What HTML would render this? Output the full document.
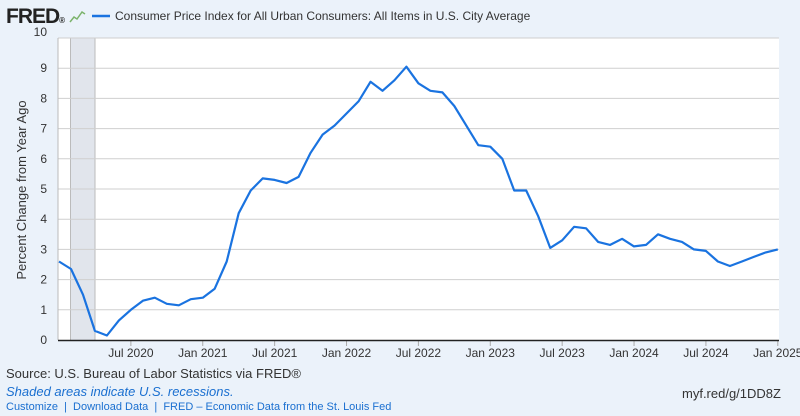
<!DOCTYPE html>
<html><head><style>
body{margin:0;width:800px;height:416px;background:#ebf2fa;font-family:"Liberation Sans",sans-serif;overflow:hidden;position:relative}
.t{position:absolute;white-space:nowrap}
</style></head><body>
<svg width="800" height="416" style="position:absolute;left:0;top:0">
<rect x="58" y="38" width="721" height="302" fill="#fff"/>
<rect x="71" y="38" width="24" height="302" fill="#e1e5ec"/>
<line x1="70.5" y1="38" x2="70.5" y2="340" stroke="#bbb"/>
<line x1="95" y1="38" x2="95" y2="340" stroke="#bbb"/>
<g id="grid" stroke="#cfcfcf" stroke-width="1"></g>
<line x1="58" y1="38" x2="58" y2="340" stroke="#bbb"/>
<line x1="58" y1="340.5" x2="779" y2="340.5" stroke="#222" stroke-width="1.5"/>
<g id="ylab" font-family="Liberation Sans" font-size="12" fill="#333" text-anchor="end"></g>
<g id="xlab" font-family="Liberation Sans" font-size="12" fill="#333" text-anchor="middle"></g>
<polyline id="ln" fill="none" stroke="#1a73e0" stroke-width="2.2" stroke-linejoin="round"/>
<text x="26" y="190" transform="rotate(-90 26 190)" font-family="Liberation Sans" font-size="13" fill="#333" text-anchor="middle">Percent Change from Year Ago</text>
<line x1="92" y1="16" x2="110" y2="16" stroke="#1a73e0" stroke-width="2.5"/>
<polyline points="70,22 74,17 77,19 82,12 85,14" fill="none" stroke="#7bb36b" stroke-width="1.5"/>
</svg>
<div class="t" style="left:6px;top:5px;font-size:21px;font-weight:bold;color:#222;letter-spacing:-1px">FRED<span style="font-size:8px">®</span></div>
<div class="t" style="left:115px;top:9px;font-size:12px;color:#333">Consumer Price Index for All Urban Consumers: All Items in U.S. City Average</div>
<div class="t" style="left:6px;top:366px;font-size:13px;color:#333">Source: U.S. Bureau of Labor Statistics via FRED®</div>
<div class="t" style="left:6px;top:384px;font-size:13px;color:#1a6fd0;font-style:italic">Shaded areas indicate U.S. recessions.</div>
<div class="t" style="left:6px;top:401px;font-size:11px;color:#1a6fd0">Customize &nbsp;| &nbsp;Download Data &nbsp;| &nbsp;FRED – Economic Data from the St. Louis Fed</div>
<div class="t" style="left:682px;top:386px;font-size:13px;color:#333">myf.red/g/1DD8Z</div>
<script>
var ns="http://www.w3.org/2000/svg";
function Y(v){return 340-30.2*v}
var g=document.getElementById('grid'),yl=document.getElementById('ylab'),xl=document.getElementById('xlab');
for(var v=1;v<=10;v++){var l=document.createElementNS(ns,'line');l.setAttribute('x1',58);l.setAttribute('x2',779);l.setAttribute('y1',Y(v));l.setAttribute('y2',Y(v));g.appendChild(l);}
for(var v=0;v<=10;v++){var t=document.createElementNS(ns,'text');t.setAttribute('x',47);t.setAttribute('y',Y(v)+(v==10?-2:4));t.textContent=v;yl.appendChild(t);}
function X(m){return 59+m*11.98}
var labs=["Jul 2020","Jan 2021","Jul 2021","Jan 2022","Jul 2022","Jan 2023","Jul 2023","Jan 2024","Jul 2024","Jan 2025"];
for(var i=0;i<labs.length;i++){var x=X(6+6*i);var t=document.createElementNS(ns,'text');t.setAttribute('x',x);t.setAttribute('y',357);t.textContent=labs[i];xl.appendChild(t);
var k=document.createElementNS(ns,'line');k.setAttribute('x1',x);k.setAttribute('x2',x);k.setAttribute('y1',341);k.setAttribute('y2',346);k.setAttribute('stroke','#aaa');g.appendChild(k);}
var d=[2.6,2.35,1.5,0.3,0.15,0.65,1.0,1.3,1.4,1.2,1.15,1.35,
1.4,1.7,2.6,4.2,4.95,5.35,5.3,5.2,5.4,6.2,6.8,7.1,
7.5,7.9,8.55,8.25,8.6,9.05,8.5,8.25,8.2,7.75,7.1,6.45,
6.4,6.0,4.95,4.95,4.1,3.05,3.3,3.75,3.7,3.25,3.15,3.35,
3.1,3.15,3.5,3.35,3.25,3.0,2.95,2.6,2.45,2.6,2.75,2.9,3.0];
var p=d.map(function(v,i){return X(i).toFixed(1)+","+Y(v).toFixed(1)}).join(" ");
document.getElementById('ln').setAttribute('points',p);
</script>
</body></html>
